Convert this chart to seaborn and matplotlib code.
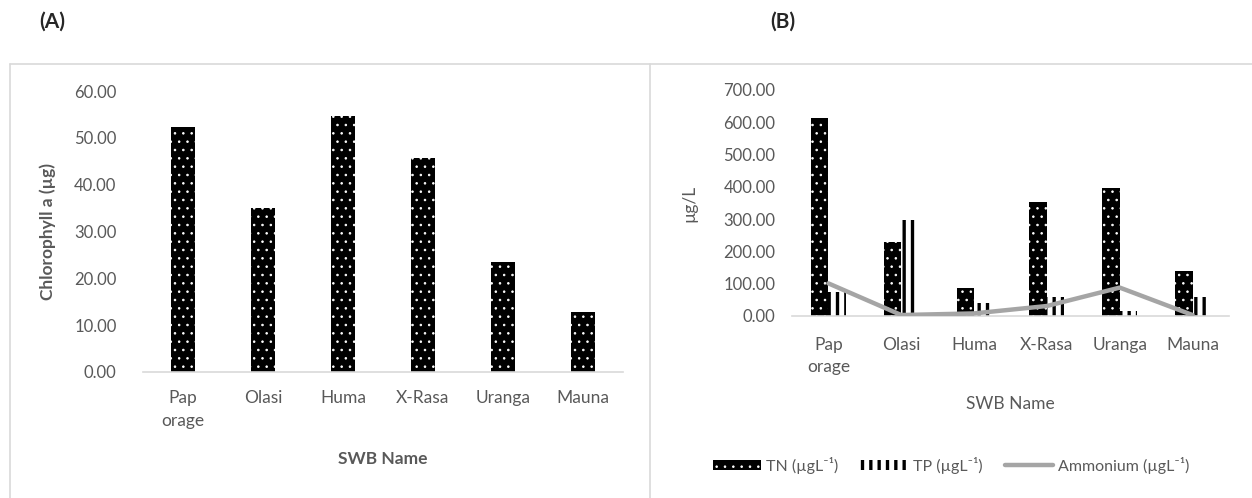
import pandas as pd
import seaborn as sns
import matplotlib.pyplot as plt
from matplotlib.patches import Patch
from matplotlib.lines import Line2D

# values
sites = ["Pap\norage", "Olasi", "Huma", "X-Rasa", "Uranga", "Mauna"]
chl_a = [52.3, 35.1, 54.7, 45.8, 23.5, 12.8]
tn = [614, 230, 86, 352, 397, 140]
tp = [75, 296, 41, 58, 16, 58]
ammonium = [101, 3, 8, 31, 88, 3]

tn_label = "TN (\u00b5gL\u207b\u00b9)"
tp_label = "TP (\u00b5gL\u207b\u00b9)"
amm_label = "Ammonium (\u00b5gL\u207b\u00b9)"

sns.set_theme(style="white")
plt.rcParams["font.family"] = ["Lato", "DejaVu Sans"]

GREY = "#595959"
AXIS = "#d9d9d9"
LINE = "#a5a5a5"

W, H = 1252, 498
fig = plt.figure(figsize=(W / 100, H / 100), dpi=100)


def px_axes(left, right, bottom, top):
    return fig.add_axes([left / W, 1 - bottom / H, (right - left) / W, (bottom - top) / H])


def hatch_width(artist, lw):
    # the hatch line width is a global rc setting, so swap it in while this patch draws
    if hasattr(artist, "_hatch_linewidth"):
        artist._hatch_linewidth = lw
    orig = artist.draw

    def draw(renderer):
        with plt.rc_context({"hatch.linewidth": lw}):
            orig(renderer)
    artist.draw = draw


def dotted(bar):
    bar.set_linewidth(0)
    bar.set_facecolor("black")
    bar.set_edgecolor("white")
    bar.set_hatch("..")
    hatch_width(bar, 0.6)


def striped(bar):
    bar.set_linewidth(0)
    bar.set_facecolor("white")
    bar.set_edgecolor("black")
    bar.set_hatch("||")
    hatch_width(bar, 2.4)


def style_axes(ax, ymax, step, ypad, xpad):
    for side in ["left", "right", "top"]:
        ax.spines[side].set_visible(False)
    ax.spines["bottom"].set_color(AXIS)
    ax.spines["bottom"].set_linewidth(1.2)
    ax.set_ylim(0, ymax)
    ax.set_yticks(range(0, ymax + 1, step))
    ax.set_yticklabels([f"{v:.2f}" for v in range(0, ymax + 1, step)])
    ax.tick_params(axis="both", length=0, labelsize=12, labelcolor=GREY)
    ax.tick_params(axis="x", pad=xpad, labelsize=12.5)
    ax.tick_params(axis="y", pad=ypad)
    ax.set_xlim(-0.5, len(sites) - 0.5)
    for lbl in ax.get_xticklabels():
        lbl.set_linespacing(1.5)


# ---- panel A
ax1 = px_axes(143, 623, 372, 91)
sns.barplot(x=sites, y=chl_a, color="black", width=0.3, ax=ax1, saturation=1)
for bar in ax1.patches:
    dotted(bar)
style_axes(ax1, 60, 10, ypad=19, xpad=13)
ax1.set_xlabel("SWB Name", fontsize=12.5, fontweight="bold", color=GREY)
ax1.set_ylabel("Chlorophyll a (\u00b5g)", fontsize=12.5, fontweight="bold", color=GREY)
ax1.xaxis.set_label_coords(0.5, -0.28)
ax1.yaxis.set_label_coords(-0.181, 0.5)

# ---- panel B
ax2 = px_axes(792, 1229, 316, 90)
nutrients = pd.DataFrame({
    "site": sites * 2,
    "var": [tn_label] * len(sites) + [tp_label] * len(sites),
    "value": tn + tp,
})
sns.barplot(data=nutrients, x="site", y="value", hue="var",
            palette=["black", "white"], width=0.48, ax=ax2,
            saturation=1, legend=False)
for bar in ax2.containers[0]:
    dotted(bar)
for bar in ax2.containers[1]:
    striped(bar)
sns.lineplot(x=sites, y=ammonium, ax=ax2, color=LINE, lw=3.2, sort=False, zorder=5)
style_axes(ax2, 700, 100, ypad=12, xpad=15)
ax2.set_xlabel("SWB Name", fontsize=12.5, color=GREY)
ax2.set_ylabel("\u00b5g/L", fontsize=12.5, color=GREY)
ax2.xaxis.set_label_coords(0.5, -0.355)
ax2.yaxis.set_label_coords(-0.217, 0.5)

# legend under panel B
tn_handle = Patch(label=tn_label)
dotted(tn_handle)
tp_handle = Patch(label=tp_label)
striped(tp_handle)
amm_handle = Line2D([], [], color=LINE, lw=3.2, label=amm_label)
leg = fig.legend(handles=[tn_handle, tp_handle, amm_handle], loc="center",
                 bbox_to_anchor=(951 / W, 1 - 465 / H), ncol=3, frameon=False,
                 fontsize=11.5, labelcolor=GREY, handlelength=3.0, handleheight=0.55,
                 handletextpad=0.3, columnspacing=1.4)
for p in leg.get_patches():
    if p.get_hatch() == "..":
        hatch_width(p, 0.6)
    elif p.get_hatch() == "||":
        hatch_width(p, 2.4)

# panel letters and chart-area borders
fig.text(52 / W, 1 - 22 / H, "(A)", fontsize=15, fontweight="bold", ha="center", va="center")
fig.text(783 / W, 1 - 22 / H, "(B)", fontsize=15, fontweight="bold", ha="center", va="center")
for xs, ys in [([10, W], [64, 64]), ([10, 10], [64, H]), ([650, 650], [64, H])]:
    fig.add_artist(Line2D([x / W for x in xs], [1 - y / H for y in ys],
                          color=AXIS, lw=1.2, transform=fig.transFigure))

fig.savefig("out.png", dpi=100)
